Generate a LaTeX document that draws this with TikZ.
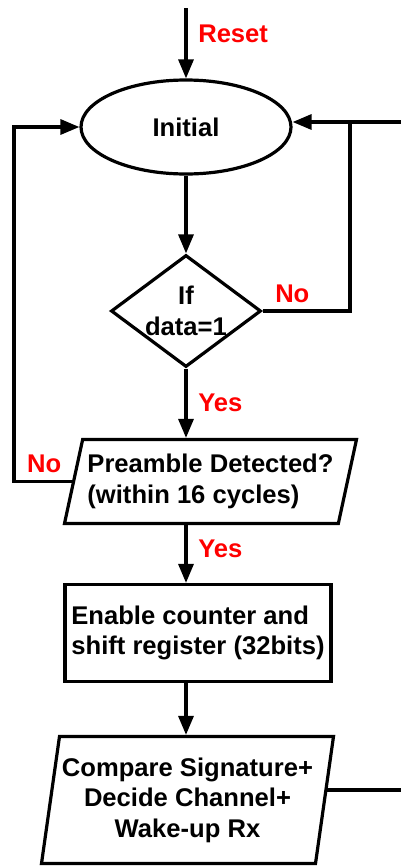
\documentclass[tikz,border=0pt]{standalone}
\usepackage{fontspec}
\setmainfont{Liberation Sans}
\usetikzlibrary{arrows.meta, shapes.geometric}

\tikzset{
	flow/.style={-{Triangle[length=9.5pt, width=7.5pt]}, line width=1.6pt},
	wire/.style={line width=1.6pt},
	txt/.style={font=\fontsize{12.8}{15.2}\selectfont\bfseries},
	lbl/.style={txt, text=red},
	box/.style={draw, line width=1.6pt, txt, inner sep=0pt},
}

\begin{document}
\begin{tikzpicture}[x=0.5pt, y=-0.5pt]
	\useasboundingbox (0, 0) rectangle (401, 868);

	% loop ends and free wire ends
	\coordinate (rst) at (186, 8);
	\coordinate (rgt) at (401, 122);
	\coordinate (rtop) at (350, 122);
	\coordinate (lft) at (14, 127);
	\coordinate (out) at (401, 790);

	\node (init) at (186, 127) [box, ellipse, minimum width=105pt, minimum height=47pt] {Initial};
	\node (cond) at (186, 311) [box, diamond, aspect=1.34, minimum width=75pt, minimum height=56pt, align=center] {If\\ data=1};
	\node (pre) at (210.5, 481.5) [box, trapezium, trapezium left angle=71.5, trapezium right angle=108.5, trapezium stretches body, minimum width=146pt, minimum height=42pt, align=left] {Preamble Detected?\\ (within 16 cycles)};
	\node (reg) at (198, 633) [box, rectangle, minimum width=133pt, minimum height=48.5pt, align=left] {Enable counter and\\ shift register (32bits)};
	\node (fin) at (187.5, 800) [box, trapezium, trapezium left angle=78, trapezium right angle=102, trapezium stretches body, minimum width=146pt, minimum height=63.5pt, align=center] {Compare Signature+\\ Decide Channel+\\ Wake-up Rx};

	\draw[flow] (rst) -- node[lbl, right, pos=0.36, xshift=2pt] {Reset} (init);
	\draw[flow] (rgt) -- (init.east |- rgt);
	\draw[flow] (init) -- (cond);
	\draw[wire] (cond) -| node[lbl, above, pos=0.17] {No} (rtop);
	\draw[flow] (cond) -- node[lbl, right, pos=0.49, xshift=2pt] {Yes} (cond |- pre.north);

	% back to the start when nothing is found
	\draw[flow] (pre.west) -| node[lbl, above, pos=0.24] {No} (lft) -- (init.west);
	\draw[flow] (pre.south -| init) -- node[lbl, right, pos=0.41, xshift=2pt] {Yes} (reg.north -| init);

	\draw[flow] (reg.south -| init) -- (fin.north -| init);
	\draw[wire] (out) -- (fin.east |- out);
\end{tikzpicture}
\end{document}
